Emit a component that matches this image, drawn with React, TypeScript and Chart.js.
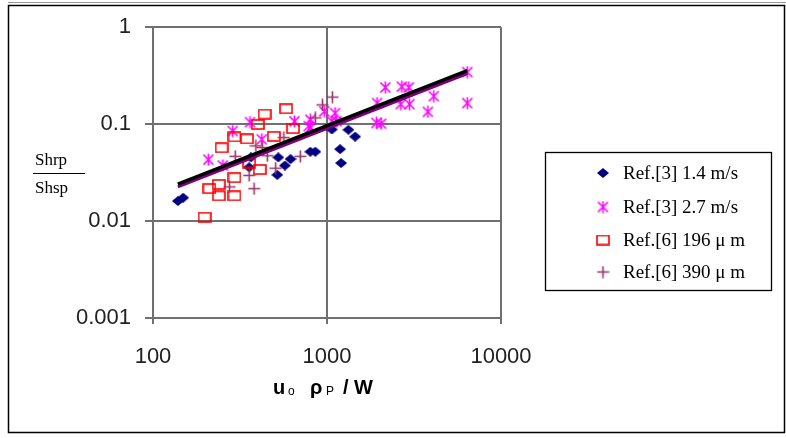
import React, { useEffect, useRef } from "react";
import { Chart, registerables } from "chart.js";
Chart.register(...registerables);

// ---- axis ticks ----
const xTickValues = [100, 1000, 10000];
const xTickLabels = ["100", "1000", "10000"];
const yTickValues = [0.001, 0.01, 0.1, 1];
const yTickLabels = ["0.001", "0.01", "0.1", "1"];

// ---- series names ----
const seriesNames = ["Ref.[3] 1.4 m/s", "Ref.[3] 2.7 m/s", "Ref.[6] 196 \u03bc m", "Ref.[6] 390 \u03bc m"];

// ---- Ref.[3] 1.4 m/s (navy diamonds) ----
const ref3SlowX = [139, 149, 357, 365, 518, 525, 573, 617, 802, 857, 1065, 1189, 1205, 1327, 1452];
const ref3SlowY = [0.0161, 0.0174, 0.0359, 0.0454, 0.030, 0.0454, 0.0374, 0.0436, 0.0519, 0.0519, 0.0881, 0.0552, 0.0397, 0.0875, 0.0743];

// ---- Ref.[3] 2.7 m/s (magenta asterisks) ----
const ref3FastX = [208, 252, 287, 361, 422, 650, 802, 805, 964, 1113, 1065, 785, 1137, 2163, 2692, 2954, 1941, 2655, 2978, 4110, 3800, 6398, 6398, 1923, 2048];
const ref3FastY = [0.043, 0.0374, 0.0849, 0.1048, 0.0697, 0.107, 0.111, 0.0917, 0.1356, 0.130, 0.107, 0.0954, 0.107, 0.239, 0.2435, 0.239, 0.165, 0.161, 0.161, 0.194, 0.134, 0.344, 0.165, 0.103, 0.101];

// ---- Ref.[6] 196 um (red hollow squares) ----
const ref6SmallX = [198, 211, 239, 239, 294, 294, 357, 411, 248, 294, 347, 400, 438, 582, 495, 638];
const ref6SmallY = [0.01096, 0.0216, 0.0239, 0.0182, 0.0182, 0.028, 0.0397, 0.034, 0.057, 0.0738, 0.0704, 0.099, 0.127, 0.144, 0.0748, 0.090];

// ---- Ref.[6] 390 um (mauve plus) ----
const ref6LargeX = [275, 297, 381, 357, 454, 507, 703, 390, 425, 565, 857, 942, 1074];
const ref6LargeY = [0.0225, 0.0465, 0.0216, 0.0296, 0.0472, 0.0351, 0.0465, 0.0597, 0.0574, 0.0726, 0.116, 0.158, 0.190];

// ---- fitted trend lines ----
const fitBlackX = [139, 6400];
const fitBlackY = [0.0241, 0.357];
const fitPurpleX = [139, 6400];
const fitPurpleY = [0.0225, 0.333];

const pts = (xs: number[], ys: number[]) => xs.map((x, i) => ({ x, y: ys[i] }));

function makeMarker(kind: string): HTMLCanvasElement {
  const c = document.createElement("canvas");
  const ctx = c.getContext("2d")!;
  if (kind === "diamond") {
    c.width = 12; c.height = 10;
    ctx.fillStyle = "#000080";
    ctx.beginPath();
    ctx.moveTo(6, 0); ctx.lineTo(12, 5); ctx.lineTo(6, 10); ctx.lineTo(0, 5);
    ctx.closePath(); ctx.fill();
  } else if (kind === "star") {
    c.width = 13; c.height = 13;
    ctx.strokeStyle = "#FF00FF"; ctx.lineWidth = 1.6;
    ctx.beginPath();
    ctx.moveTo(1.5, 1.5); ctx.lineTo(11.5, 11.5);
    ctx.moveTo(11.5, 1.5); ctx.lineTo(1.5, 11.5);
    ctx.moveTo(6.5, 0.5); ctx.lineTo(6.5, 12.5);
    ctx.stroke();
  } else if (kind === "square") {
    c.width = 14; c.height = 11;
    ctx.strokeStyle = "#FF0000"; ctx.lineWidth = 1.6;
    ctx.strokeRect(1, 1, 12, 9);
  } else {
    c.width = 13; c.height = 13;
    ctx.strokeStyle = "#993366"; ctx.lineWidth = 1.6;
    ctx.beginPath();
    ctx.moveTo(0.5, 6.5); ctx.lineTo(12.5, 6.5);
    ctx.moveTo(6.5, 0.5); ctx.lineTo(6.5, 12.5);
    ctx.stroke();
  }
  return c;
}

export default function App() {
  const ref = useRef<HTMLCanvasElement | null>(null);
  useEffect(() => {
    if (!ref.current) return;
    const markers = [makeMarker("diamond"), makeMarker("star"), makeMarker("square"), makeMarker("plus")];

    const decor = {
      id: "decor",
      beforeDraw(chart: any) {
        const ctx = chart.ctx;
        ctx.save();
        ctx.fillStyle = "#fff";
        ctx.fillRect(0, 0, chart.width, chart.height);
        ctx.restore();
      },
      afterDraw(chart: any) {
        const ctx = chart.ctx;
        ctx.save();
        // outer frame
        ctx.strokeStyle = "#999";
        ctx.lineWidth = 1;
        ctx.beginPath(); ctx.moveTo(8, 2.5); ctx.lineTo(786, 2.5); ctx.stroke();
        ctx.strokeStyle = "#000";
        ctx.lineWidth = 1.5;
        ctx.strokeRect(8.5, 5.5, 776, 427);

        // legend
        ctx.lineWidth = 1.3;
        ctx.strokeRect(545.5, 152.5, 226, 138);
        ctx.font = "19px 'Liberation Serif', serif";
        ctx.fillStyle = "#000";
        ctx.textBaseline = "middle";
        ctx.textAlign = "left";
        const rows = [173, 207, 240, 272];
        seriesNames.forEach((name, i) => {
          const m = markers[i];
          ctx.drawImage(m, 603 - m.width / 2, rows[i] - m.height / 2);
          ctx.fillText(name, 623, rows[i] + 1);
        });

        // y title (fraction)
        ctx.font = "17px 'Liberation Serif', serif";
        ctx.textBaseline = "alphabetic";
        ctx.fillText("Shrp", 35, 165);
        ctx.fillText("Shsp", 35, 193);
        ctx.lineWidth = 1;
        ctx.beginPath(); ctx.moveTo(33, 173.5); ctx.lineTo(85, 173.5); ctx.stroke();

        // x title
        const big = "bold 20px 'Liberation Sans', Arial, sans-serif";
        const small = "12px 'Liberation Sans', Arial, sans-serif";
        const base = 394;
        ctx.font = big; ctx.fillText("u", 273, base);
        ctx.font = small; ctx.fillText("o", 288, base + 1);
        ctx.font = big; ctx.fillText("\u03c1", 310, base);
        ctx.font = small; ctx.fillText("P", 326, base + 1);
        ctx.font = big; ctx.fillText("/ W", 343, base);
        ctx.restore();
      },
    };

    const gridCol = "#707070";
    const tickFont = { family: "'Liberation Sans', Arial, sans-serif", size: 22 };

    const chart = new Chart(ref.current, {
      type: "scatter",
      data: {
        datasets: [
          { label: "fitBlack", data: pts(fitBlackX, fitBlackY), showLine: true, borderColor: "#000", borderWidth: 3.5, pointRadius: 0, order: 0 } as any,
          { label: "fitPurple", data: pts(fitPurpleX, fitPurpleY), showLine: true, borderColor: "#800080", borderWidth: 3, pointRadius: 0, order: 1 } as any,
          { label: seriesNames[0], data: pts(ref3SlowX, ref3SlowY), pointStyle: markers[0], order: 5 } as any,
          { label: seriesNames[1], data: pts(ref3FastX, ref3FastY), pointStyle: markers[1], order: 4 } as any,
          { label: seriesNames[2], data: pts(ref6SmallX, ref6SmallY), pointStyle: markers[2], order: 3 } as any,
          { label: seriesNames[3], data: pts(ref6LargeX, ref6LargeY), pointStyle: markers[3], order: 2 } as any,
        ],
      },
      options: {
        animation: false,
        responsive: false,
        maintainAspectRatio: false,
        events: [],
        layout: { padding: { left: 0, top: 23, right: 285, bottom: 0 } },
        plugins: { legend: { display: false }, tooltip: { enabled: false }, title: { display: false } },
        scales: {
          x: {
            type: "logarithmic",
            min: 100,
            max: 10000,
            afterBuildTicks: (s: any) => { s.ticks = xTickValues.map((v) => ({ value: v })); },
            afterFit: (s: any) => { s.height = 120; },
            ticks: {
              autoSkip: false, maxRotation: 0, padding: 20, color: "#222", font: tickFont,
              callback: (v: any) => { const i = xTickValues.indexOf(Number(v)); return i >= 0 ? xTickLabels[i] : ""; },
            },
            grid: { color: gridCol, lineWidth: 2, tickLength: 6, drawTicks: true },
            border: { color: gridCol, width: 2 },
          },
          y: {
            type: "logarithmic",
            min: 0.001,
            max: 1,
            afterBuildTicks: (s: any) => { s.ticks = yTickValues.map((v) => ({ value: v })); },
            afterFit: (s: any) => { s.width = 153; },
            ticks: {
              autoSkip: false, padding: 14, color: "#222", font: tickFont,
              callback: (v: any) => { const i = yTickValues.findIndex((t) => Math.abs(t - Number(v)) < 1e-9); return i >= 0 ? yTickLabels[i] : ""; },
            },
            grid: { color: gridCol, lineWidth: 2, tickLength: 8, drawTicks: true },
            border: { color: gridCol, width: 2 },
          },
        },
      },
      plugins: [decor],
    } as any);
    return () => chart.destroy();
  }, []);

  return (
    <div style={{ position: "fixed", left: 0, top: 0, width: 786, height: 438, background: "#fff" }}>
      <canvas ref={ref} width={786} height={438} style={{ display: "block", width: 786, height: 438 }} />
    </div>
  );
}
